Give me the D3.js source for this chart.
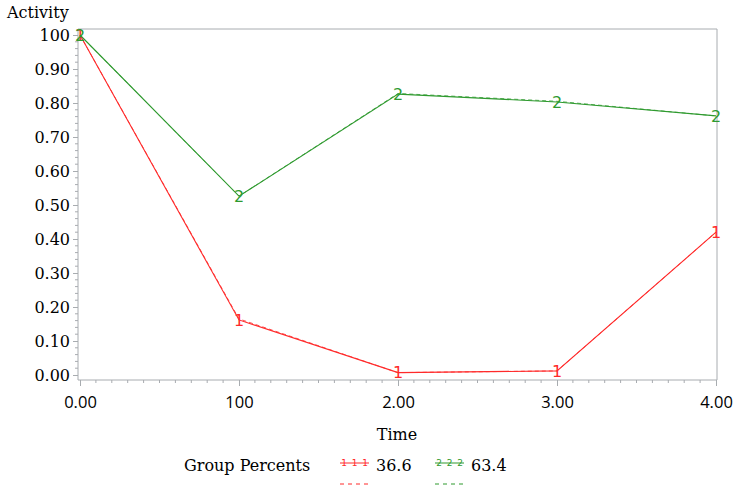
<!DOCTYPE html>
<html>
<head>
<meta charset="utf-8">
<script src="https://cdn.jsdelivr.net/npm/d3@7"></script>
<style>
  body { margin: 0; background: #fff; }
  svg { display: block; }
  text { font-family: 'DejaVu Serif', serif; fill: #000; }
</style>
</head>
<body>
<svg id="chart" width="744" height="496"></svg>
<script>
// data
const times = [0, 1, 2, 3, 4]
const xTickLabels = ['0.00', '100', '2.00', '3.00', '4.00']
const yTicks = [0, 0.1, 0.2, 0.3, 0.4, 0.5, 0.6, 0.7, 0.8, 0.9, 1.0]
const yTickLabels = ['0.00', '0.10', '0.20', '0.30', '0.40', '0.50', '0.60', '0.70', '0.80', '0.90', '100']
const group1 = [1.00, 0.162, 0.007, 0.012, 0.42]
const group1Fit = [1.00, 0.165, 0.007, 0.012, 0.42]
const group2 = [1.00, 0.526, 0.826, 0.803, 0.762]
const group2Fit = [1.00, 0.526, 0.828, 0.805, 0.762]
const groupNames = ['36.6', '63.4']
const groupMarks = ['1', '2']
const colors = ['#ff2a2a', '#2f9a2f']

const svg = d3.select('#chart')
const axisColor = '#a8acb0'

const x = d3.scaleLinear().domain([0, 4]).range([80, 716])
const y = d3.scaleLinear().domain([0, 1]).range([375, 35])

const plot = { left: 78, right: 717, top: 29, bottom: 380 }

// frame on top and right
svg.append('path')
   .attr('d', `M${plot.left},${plot.top}H${plot.right}V${plot.bottom}`)
   .attr('fill', 'none')
   .attr('stroke', axisColor)

// y axis
const yAxis = d3.axisLeft(y)
                .tickValues(yTicks)
                .tickSize(5)
                .tickPadding(3)
                .tickFormat((d, i) => yTickLabels[i])
const gy = svg.append('g').attr('transform', `translate(${plot.left},0)`).call(yAxis)
gy.select('.domain').attr('d', `M0,${plot.top}V${plot.bottom}`)
gy.selectAll('.tick text')
  .style('font-family', "'DejaVu Serif', serif")
  .style('font-size', '16px')
// minor y ticks
const yMinor = d3.range(0, 50).map(i => i / 50).filter(v => Math.round(v * 50) % 5 !== 0)
gy.selectAll('.minor').data(yMinor).enter().append('line')
  .attr('class', 'minor')
  .attr('x1', -3).attr('x2', 0)
  .attr('y1', d => y(d)).attr('y2', d => y(d))

// x axis
const xAxis = d3.axisBottom(x)
                .tickValues(times)
                .tickSize(6)
                .tickPadding(10)
                .tickFormat((d, i) => xTickLabels[i])
const gx = svg.append('g').attr('transform', `translate(0,${plot.bottom})`).call(xAxis)
gx.select('.domain').attr('d', `M${plot.left},0H${plot.right}`)
gx.selectAll('.tick text')
  .style('font-family', "'Open Sans', sans-serif")
  .style('font-size', '16.5px')
const xMinor = d3.range(0, 40).map(i => i / 10).filter(v => Math.round(v * 10) % 10 !== 0)
gx.selectAll('.minor').data(xMinor).enter().append('line')
  .attr('class', 'minor')
  .attr('y1', 0).attr('y2', 3)
  .attr('x1', d => x(d)).attr('x2', d => x(d))

svg.selectAll('.domain, .tick line, line.minor').attr('stroke', axisColor)
svg.selectAll('.tick text').style('fill', '#000')

// titles
svg.append('text').attr('x', 7).attr('y', 18).attr('font-size', 16).text('Activity')
svg.append('text').attr('x', 397).attr('y', 440).attr('text-anchor', 'middle')
   .attr('font-size', 16).text('Time')

// lines
const line = d3.line().x((d, i) => x(times[i])).y(d => y(d))
const groups = [
  { solid: group1, dashed: group1Fit },
  { solid: group2, dashed: group2Fit }
]
groups.forEach((g, k) => {
  svg.append('path').attr('d', line(g.dashed))
     .attr('fill', 'none').attr('stroke', colors[k]).attr('stroke-width', 1)
     .attr('stroke-dasharray', '4,3').attr('opacity', 0.8)
  svg.append('path').attr('d', line(g.solid))
     .attr('fill', 'none').attr('stroke', colors[k]).attr('stroke-width', 1.1)
  svg.selectAll(null).data(g.solid).enter().append('text')
     .attr('x', (d, i) => x(times[i]))
     .attr('y', d => y(d))
     .attr('dy', '0.36em')
     .attr('text-anchor', 'middle')
     .style('font-family', "'DejaVu Sans', sans-serif")
     .style('font-size', '16px')
     .style('fill', colors[k])
     .text(groupMarks[k])
})

// legend
svg.append('text').attr('x', 184).attr('y', 471).attr('font-size', 16).text('Group Percents')
const legendX = [340, 435]
groups.forEach((g, k) => {
  const lx = legendX[k]
  const lg = svg.append('g')
  lg.append('line').attr('x1', lx).attr('x2', lx + 29).attr('y1', 463).attr('y2', 463)
    .attr('stroke', colors[k])
  lg.selectAll(null).data([0, 1, 2]).enter().append('text')
    .attr('x', d => lx + 4 + d * 10.5).attr('y', 463).attr('dy', '0.36em')
    .attr('text-anchor', 'middle')
    .style('font-family', "'DejaVu Sans', sans-serif")
    .style('font-size', '9px').style('fill', colors[k])
    .text(groupMarks[k])
  lg.append('line').attr('x1', lx).attr('x2', lx + 29).attr('y1', 484).attr('y2', 484)
    .attr('stroke', colors[k]).attr('stroke-dasharray', '4,4')
  lg.append('text').attr('x', lx + 36).attr('y', 471).attr('font-size', 16).text(groupNames[k])
})
</script>
</body>
</html>
